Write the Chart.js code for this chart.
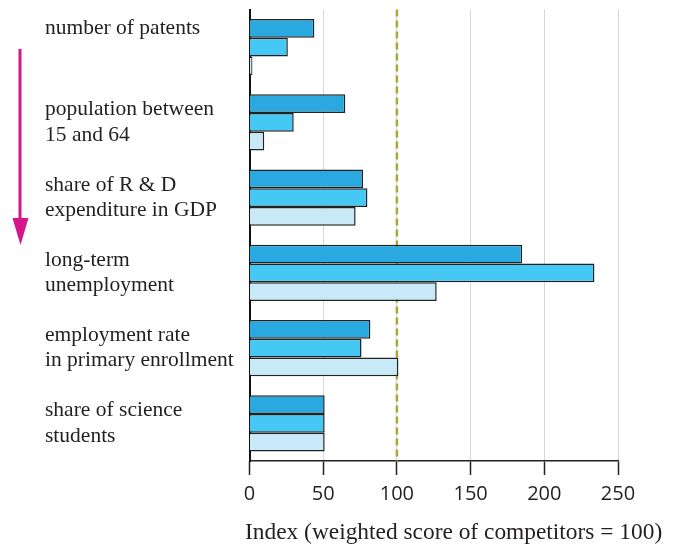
<!DOCTYPE html>
<html><head><meta charset="utf-8">
<script src="https://cdn.jsdelivr.net/npm/chart.js@4/dist/chart.umd.min.js"></script>
<style>html,body{margin:0;padding:0;background:#fff}#wrap{width:681px;height:552px}</style>
</head><body><div id="wrap"><canvas id="c"></canvas></div>
<script>
const categories = [
  ["number of patents", ""],
  ["population between", "15 and 64"],
  ["share of R & D", "expenditure in GDP"],
  ["long-term", "unemployment"],
  ["employment rate", "in primary enrollment"],
  ["share of science", "students"]
];
const series1 = [44, 65, 77, 185, 82, 51];
const series2 = [26, 30, 80, 234, 76, 51];
const series3 = [2, 10, 72, 127, 101, 51];
const xTicks = [0, 50, 100, 150, 200, 250];
const referenceValue = 100;
const axisTitle = "Index (weighted score of competitors = 100)";

const refLine = {
  id: 'refLine',
  beforeDatasetsDraw(chart) {
    const {ctx, chartArea, scales} = chart;
    const x = scales.x.getPixelForValue(referenceValue);
    ctx.save();
    ctx.strokeStyle = '#a9a838';
    ctx.lineWidth = 2.5;
    ctx.setLineDash([7, 4]);
    ctx.beginPath();
    ctx.moveTo(x, chartArea.top);
    ctx.lineTo(x, chartArea.bottom);
    ctx.stroke();
    ctx.restore();
  },
  afterDraw(chart) {
    const {ctx, chartArea} = chart;
    ctx.save();
    ctx.strokeStyle = '#d4168b';
    ctx.fillStyle = '#d4168b';
    ctx.lineWidth = 3;
    ctx.beginPath();
    ctx.moveTo(20, 49);
    ctx.lineTo(20, 222);
    ctx.stroke();
    ctx.beginPath();
    ctx.moveTo(12.5, 218);
    ctx.lineTo(28.5, 218);
    ctx.lineTo(20.5, 245);
    ctx.closePath();
    ctx.fill();
    ctx.fillStyle = '#231f20';
    ctx.font = '23.4px "Liberation Serif", serif';
    ctx.textAlign = 'left';
    ctx.textBaseline = 'middle';
    ctx.fillText(axisTitle, chartArea.left - 4.5, 533);
    ctx.restore();
  }
};

const common = {borderColor: '#222', borderWidth: 1.5, barPercentage: 1, categoryPercentage: 0.75};
new Chart(document.getElementById('c'), {
  type: 'bar',
  data: {
    labels: categories,
    datasets: [
      Object.assign({data: series1, backgroundColor: '#29a9e0'}, common),
      Object.assign({data: series2, backgroundColor: '#45c8f4'}, common),
      Object.assign({data: series3, backgroundColor: '#c8eaf8'}, common)
    ]
  },
  options: {
    indexAxis: 'y',
    responsive: true,
    maintainAspectRatio: false,
    animation: false,
    layout: {padding: {left: 45, right: 63, top: 9.5, bottom: 0}},
    plugins: {legend: {display: false}, tooltip: {enabled: false}},
    scales: {
      x: {
        min: 0, max: 250,
        afterBuildTicks(s) { s.ticks = xTicks.map(v => ({value: v})); },
        afterFit(s) { s.height = 91; s.paddingLeft = 0; s.paddingRight = 0; },
        grid: {color: '#d6d6d6', lineWidth: 1, tickLength: 14, tickColor: '#222', tickWidth: 1.5, drawOnChartArea: true},
        border: {display: true, color: '#222', width: 1.5},
        ticks: {color: '#231f20', font: {family: '"Open Sans", sans-serif', size: 20}, padding: 7, maxRotation: 0, autoSkip: false},
        title: {display: false}
      },
      y: {
        afterFit(s) { s.width = 204.5; s.paddingTop = 0; s.paddingBottom = 0; },
        grid: {display: false},
        border: {display: true, color: '#111', width: 2},
        ticks: {
          crossAlign: 'far',
          autoSkip: false,
          color: '#231f20',
          font: (c) => ({family: '"Liberation Serif", serif', size: 21.5, lineHeight: c.index === 0 ? 1.7 : 1.17})
        }
      }
    }
  },
  plugins: [refLine]
});
</script>
</body></html>
